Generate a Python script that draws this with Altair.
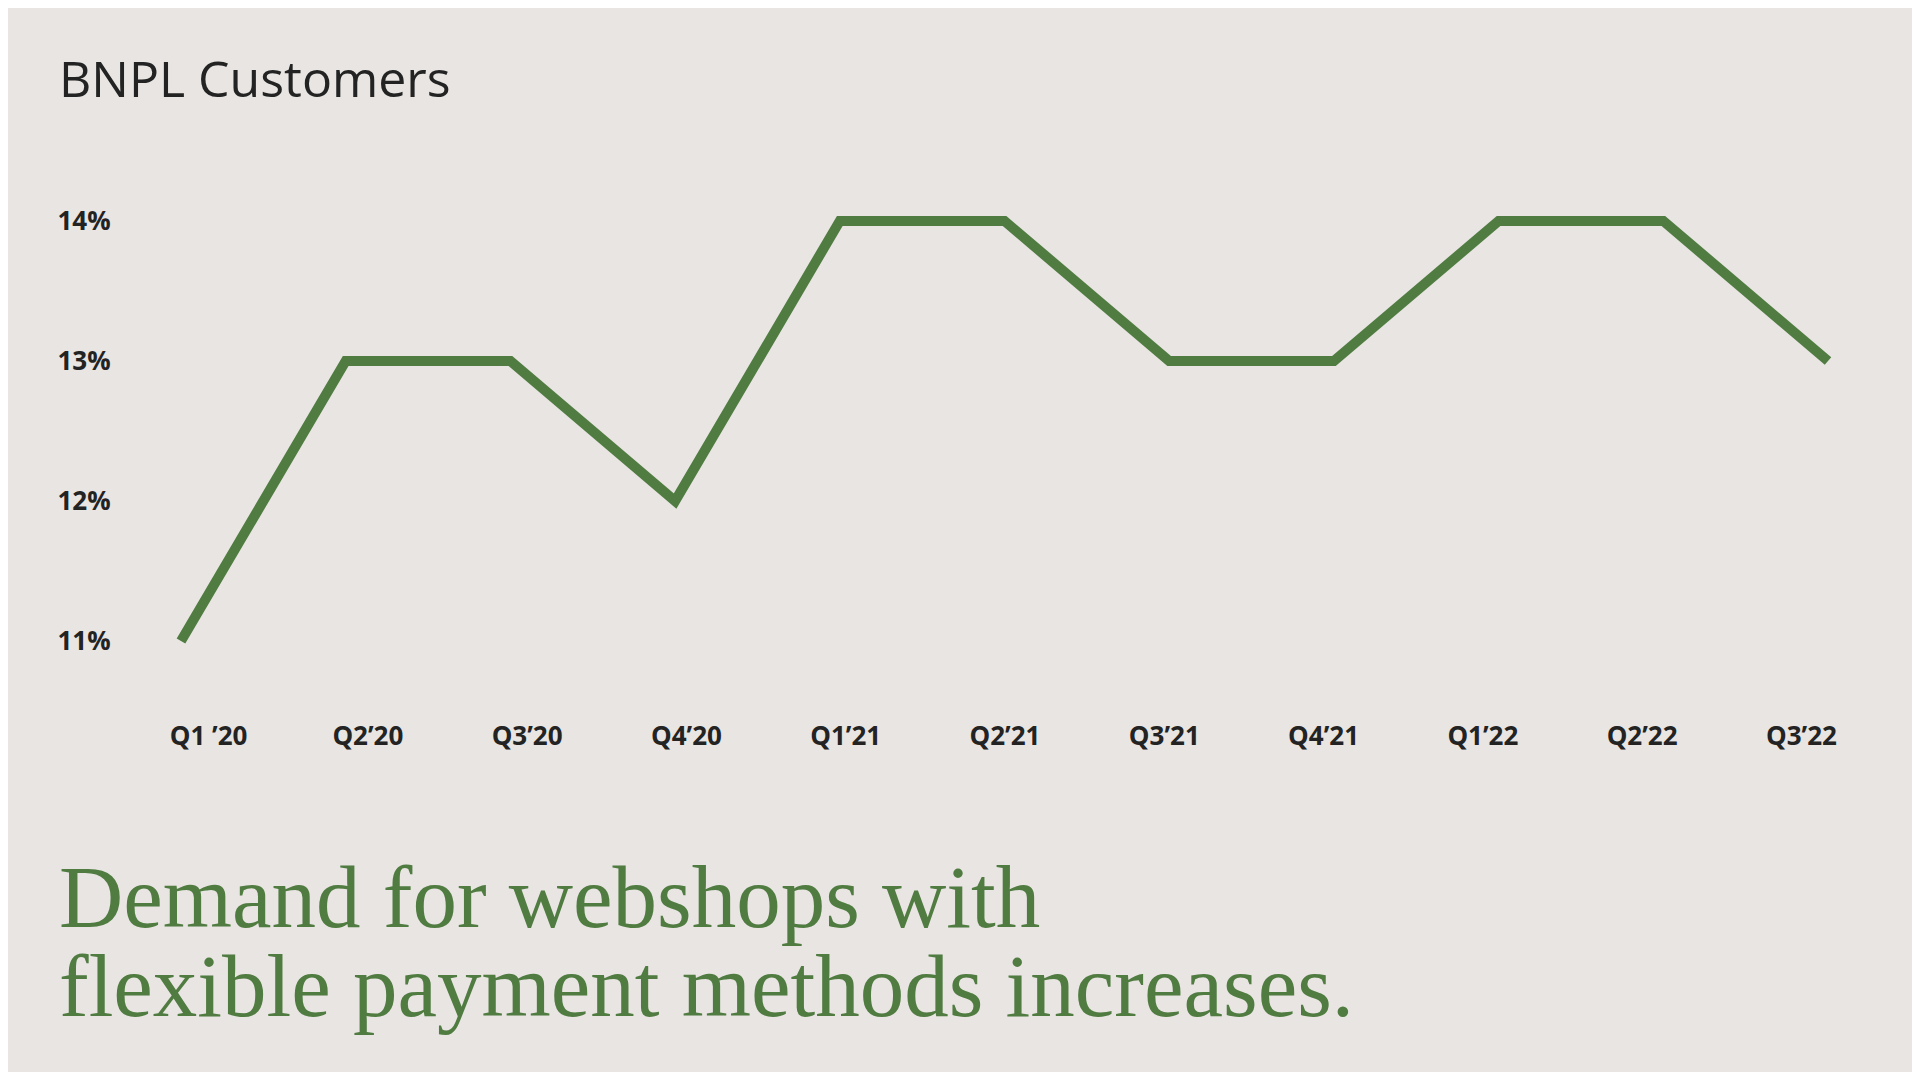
import altair as alt
import pandas as pd

quarters = ["Q1 \u201920", "Q2\u201920", "Q3\u201920", "Q4\u201920", "Q1\u201921", "Q2\u201921",
            "Q3\u201921", "Q4\u201921", "Q1\u201922", "Q2\u201922", "Q3\u201922"]
share = [11, 13, 13, 12, 14, 14, 13, 13, 14, 14, 13]
y_ticks = [11, 12, 13, 14]
title_text = "BNPL Customers"
caption_lines = ["Demand for webshops with", "flexible payment methods increases."]

GREEN = "#507C41"
DARK = "#232323"
BG = "#E8E5E2"

df = pd.DataFrame({"quarter": quarters, "share": share})

y_enc = alt.Y(
    "share:Q",
    scale=alt.Scale(domain=[11, 14], nice=False, zero=False),
    axis=alt.Axis(
        values=y_ticks, labelExpr="datum.value + '%'", title=None,
        domain=False, ticks=False, grid=False,
        labelAlign="left", labelPadding=124,
        labelFont="Open Sans", labelFontWeight="bold", labelFontSize=26, labelColor=DARK,
    ),
)

line = alt.Chart(df).mark_line(color=GREEN, strokeWidth=10, strokeCap="butt", strokeJoin="miter").encode(
    x=alt.X("quarter:N", sort=quarters, scale=alt.Scale(type="point", padding=0), axis=None),
    y=y_enc,
)

labels_layer = alt.Chart(df).mark_point(opacity=0).encode(
    x=alt.X(
        "quarter:N", sort=quarters, scale=alt.Scale(type="point", padding=0.17),
        axis=alt.Axis(
            title=None, domain=False, ticks=False, grid=False, labelAngle=0,
            labelPadding=82, labelFont="Open Sans", labelFontWeight="bold",
            labelFontSize=26, labelColor=DARK, labelBaseline="top",
        ),
    ),
    y=y_enc,
)

title_mark = alt.Chart(pd.DataFrame({"t": [title_text]})).mark_text(
    font="Open Sans", fontSize=50, color=DARK, align="left", baseline="alphabetic"
).encode(x=alt.value(-122), y=alt.value(-124), text="t:N")

caption_mark = alt.Chart(pd.DataFrame({"t": ["\n".join(caption_lines)]})).mark_text(
    font="Liberation Serif", fontSize=89, color=GREEN, align="left", baseline="alphabetic",
    lineBreak="\n", lineHeight=89,
).encode(x=alt.value(-122), y=alt.value(706), text="t:N")

chart = alt.layer(line, labels_layer, title_mark, caption_mark).resolve_scale(
    x="independent"
).properties(
    width=1647, height=420,
    autosize=alt.AutoSizeParams(type="none"),
    padding={"left": 173, "top": 213, "right": 84, "bottom": 431},
    background=BG,
).configure_view(stroke=None)

chart.save("out.html", embed_options={"renderer": "svg", "actions": False})
